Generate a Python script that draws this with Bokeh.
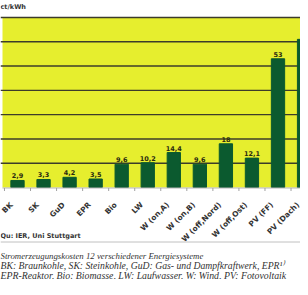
import math
from bokeh.plotting import figure
from bokeh.models import Range1d, ColumnDataSource
from bokeh.core.properties import value
from bokeh.embed import file_html
from bokeh.resources import INLINE

# ---- data ----
categories = ["BK", "SK", "GuD", "EPR", "Bio", "LW", "W (on,A)", "W (on,B)",
              "W (off,Nord)", "W (off,Ost)", "PV (FF)", "PV (Dach)"]
costs = [2.9, 3.3, 4.2, 3.5, 9.6, 10.2, 14.4, 9.6, 18, 12.1, 53, 61]
cost_labels = ["2,9", "3,3", "4,2", "3,5", "9,6", "10,2", "14,4", "9,6", "18", "12,1", "53", ""]
grid_values = [10, 20, 30, 40, 50, 60, 70]
unit_label = "ct/kWh"
source_text = "Qu: IER, Uni Stuttgart"
caption_lines = [
    "Stromerzeugungskosten 12 verschiedener Energiesysteme",
    "BK: Braunkohle, SK: Steinkohle, GuD: Gas- und Dampfkraftwerk, EPR\u00b9\u207e",
    "EPR-Reaktor, Bio: Biomasse, LW: Laufwasser, W: Wind, PV: Fotovoltaik",
]

YELLOW = "#e6ee2e"
GREEN = "#0b5a2f"
GRID = "#3c3c2a"
TEXT = "#333333"

# ---- geometry (page px -> data) ----
W, H = 300, 279                # canvas occupies page x 8..308, y 8..287
P = 26.05                      # px per category
K = 170 / 70                   # px per ct/kWh
XS = -(25 - 8) / P             # data x at page x = 8
YS = (195 - 8) / K             # data y at page y = 8

def fx(px):
    return XS + (px - 8) / P

def fy(py):
    return (195 - py) / K

xs = list(range(len(categories)))

p = figure(width=W, height=H, output_backend="svg", toolbar_location=None,
           x_range=Range1d(XS, fx(308)), y_range=Range1d(fy(287), YS),
           min_border=0, min_border_left=0, min_border_right=0,
           min_border_top=0, min_border_bottom=0)
p.title.visible = False
p.axis.visible = False
p.grid.visible = False
p.outline_line_color = None
p.background_fill_color = "white"
p.border_fill_color = "white"

# plot area
p.quad(left=[fx(10)], right=[fx(310)], bottom=[0], top=[max(grid_values)],
       fill_color=YELLOW, line_color=None)
p.segment(x0=[fx(8)] * len(grid_values), y0=grid_values,
          x1=[fx(310)] * len(grid_values), y1=grid_values,
          line_color=GRID, line_width=1.4)

src = ColumnDataSource(dict(x=xs, top=costs, lab=cost_labels))
p.vbar(x="x", top="top", bottom=0, width=0.51, source=src,
       fill_color=GREEN, line_color=GREEN)
p.text(x="x", y="top", text="lab", source=src, text_align="center",
       text_baseline="bottom", y_offset=-2,
       text_font=value("DejaVu Sans"), text_font_size="6.5px",
       text_font_style="bold", text_color="#2a2a10")

# header
p.text(x=[fx(8)], y=[fy(14)], text=[unit_label], text_baseline="middle",
       text_font=value("DejaVu Sans"), text_font_size="6.5px",
       text_font_style="bold", text_color=TEXT)

# category axis
bounds = [x - 0.5 for x in xs] + [xs[-1] + 0.5]
p.segment(x0=[fx(10)], y0=[fy(195.5)], x1=[fx(310)], y1=[fy(195.5)],
          line_color="#b5b5b5", line_width=1)
p.segment(x0=bounds, y0=[fy(195.5)] * len(bounds), x1=bounds, y1=[fy(198.5)] * len(bounds),
          line_color="#a0a0a0", line_width=1)
p.text(x=xs, y=[fy(211)] * len(xs), text=categories, angle=math.pi / 4,
       x_offset=-6, text_align="right", text_baseline="middle",
       text_font=value("DejaVu Sans"), text_font_size="7.5px",
       text_font_style="bold", text_color=TEXT)

# source + caption
p.text(x=[fx(8)], y=[fy(243)], text=[source_text], text_baseline="middle",
       text_font=value("DejaVu Sans"), text_font_size="6.5px",
       text_font_style="bold", text_color=TEXT)
p.segment(x0=[fx(8)], y0=[fy(249.5)], x1=[fx(310)], y1=[fy(249.5)],
          line_color="#c0c0c0", line_width=1)
p.text(x=[fx(8)] * 3, y=[fy(263), fy(273), fy(283)], text=caption_lines,
       text_baseline="middle", text_font=value("Liberation Serif"),
       text_font_size=["8.8px", "9.7px", "9.8px"],
       text_font_style="italic", text_color=TEXT)

open("out.html", "w").write(file_html(p, INLINE))
